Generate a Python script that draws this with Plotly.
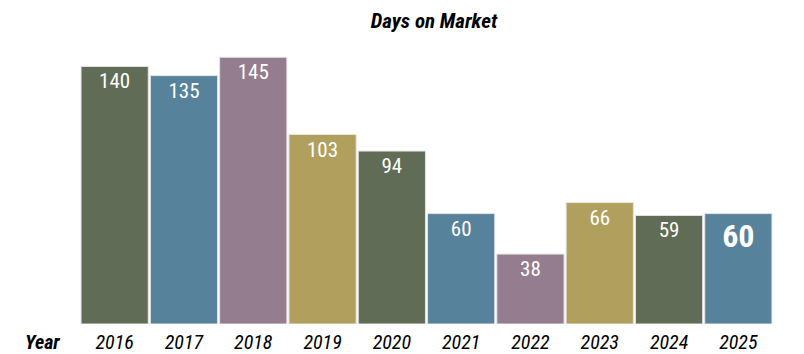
import plotly.graph_objects as go

years = ["2016", "2017", "2018", "2019", "2020", "2021", "2022", "2023", "2024", "2025"]
days = [140, 135, 145, 103, 94, 60, 38, 66, 59, 60]
colors = ["#606c55", "#56829c", "#947d8f", "#b1a05d", "#606c55",
          "#56829c", "#947d8f", "#b1a05d", "#606c55", "#56829c"]

FONT = "Roboto Condensed, Liberation Sans Narrow, Roboto, sans-serif"

texts = [str(v) if i < len(days) - 1 else "<b>%d</b>" % v for i, v in enumerate(days)]
tsizes = [21] * (len(days) - 1) + [32]

fig = go.Figure(go.Bar(
    x=years, y=days, marker=dict(color=colors, line=dict(color="#e4e4e4", width=1)),
    text=texts, textposition="inside", insidetextanchor="end",
    textfont=dict(family=FONT, color="white", size=tsizes),
    textangle=0, cliponaxis=False, hoverinfo="skip",
))

fig.update_layout(
    width=804, height=354,
    margin=dict(l=80, r=31, t=30, b=30, autoexpand=False),
    paper_bgcolor="white", plot_bgcolor="white",
    bargap=0.03, showlegend=False,
    font=dict(family=FONT, color="black"),
    title=dict(text="<b><i>Days on Market</i></b>", x=0.5398, xanchor="center",
               y=0.943, yanchor="middle", font=dict(size=21, family=FONT, color="black")),
    xaxis=dict(showgrid=False, showline=False, ticks="", zeroline=False, automargin=False,
               tickfont=dict(size=20, family=FONT, color="black"),
               tickprefix="<i>", ticksuffix="</i>", ticklabelstandoff=4),
    yaxis=dict(visible=False, range=[0, 159.8], automargin=False),
    annotations=[dict(text="<b><i>Year</i></b>", xref="paper", yref="paper",
                      x=-0.0534, y=0, xanchor="center", yanchor="middle", yshift=-18,
                      showarrow=False, font=dict(size=20, family=FONT, color="black"))],
)

fig.write_html("out.html")
